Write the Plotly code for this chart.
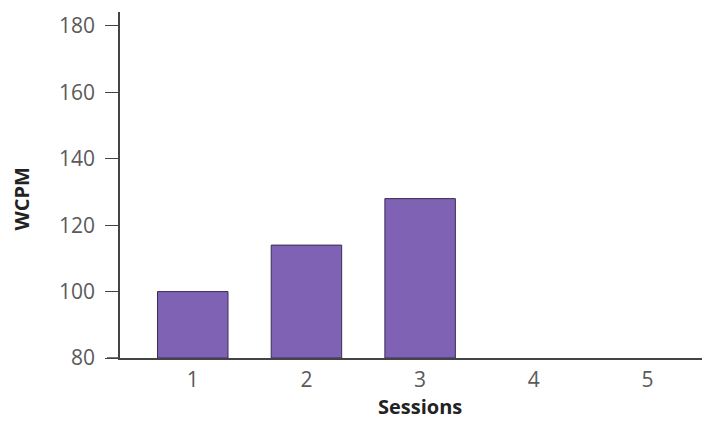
import plotly.graph_objects as go

sessions = [1, 2, 3, 4, 5]
wcpm = [100, 114, 128, None, None]
y_ticks = [80, 100, 120, 140, 160, 180]
baseline = 80

fig = go.Figure()
fig.add_trace(go.Bar(
    x=sessions,
    y=[v - baseline if v is not None else None for v in wcpm],
    base=baseline,
    marker=dict(color="#7f62b3", line=dict(color="#3a2e55", width=1)),
    width=0.62,
))

# page body has an 8px margin, so the figure is sized/offset to compensate
fig.update_layout(
    width=702, height=413,
    margin=dict(l=112, r=0, t=4, b=63),
    plot_bgcolor="white", paper_bgcolor="white",
    showlegend=False,
    font=dict(family="Open Sans", color="#5a5a5a", size=21),
    xaxis=dict(
        range=[0.36, 5.55], tickvals=sessions, ticktext=[str(s) for s in sessions],
        showline=True, linecolor="#444444", linewidth=1.5,
        ticks="outside", ticklen=2, tickcolor="rgba(0,0,0,0)",
        showgrid=False, zeroline=False,
        tickfont=dict(size=21, color="#5a5a5a"),
    ),
    yaxis=dict(
        range=[80, 184.2], tickvals=y_ticks,
        showline=True, linecolor="#444444", linewidth=1.5,
        ticks="outside", ticklen=13, tickcolor="#444444", tickwidth=1.2,
        ticklabelstandoff=6,
        showgrid=False, zeroline=False,
        tickfont=dict(size=21, color="#5a5a5a"),
    ),
    annotations=[
        dict(text="<b>Sessions</b>", x=3, y=0, xref="x", yref="paper",
             yshift=-48, yanchor="middle", showarrow=False,
             font=dict(size=20, color="#222222")),
        dict(text="<b>WCPM</b>", x=0, xref="paper", y=128, yref="y",
             xshift=-98, xanchor="center", yanchor="middle", textangle=-90,
             showarrow=False, font=dict(size=20, color="#222222")),
    ],
)
fig.add_shape(type="line", xref="paper", yref="y", x0=-13/590, x1=0, y0=80, y1=80,
              line=dict(color="#444444", width=1.5))

fig.write_html("out.html")
